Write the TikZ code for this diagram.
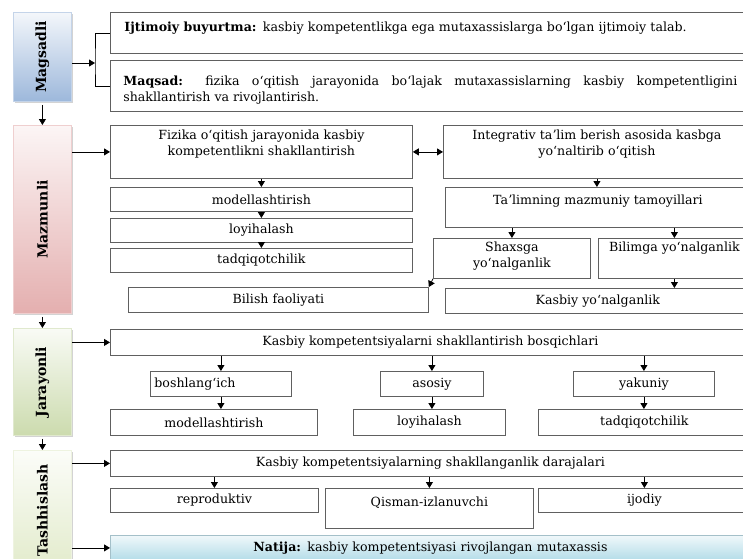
\documentclass[tikz,border=0pt]{standalone}
\usepackage{fontspec}
\setmainfont{DejaVu Serif}
\usetikzlibrary{arrows.meta,positioning,shadows}

\hyphenpenalty=10000
\exhyphenpenalty=10000

\definecolor{boxgray}{HTML}{606060}
\definecolor{magblue}{HTML}{9DB8DB}
\definecolor{mazpink}{HTML}{E4AFAF}
\definecolor{jargreen}{HTML}{CCDBAE}
\definecolor{tashgreen}{HTML}{E2EBCB}
\definecolor{natcyan}{HTML}{B3DCE8}

\begin{document}
\begin{tikzpicture}[x=1pt,y=-1pt,line width=0.8pt,>={Triangle[length=6pt,width=7pt]},
  font=\fontsize{12.6}{16}\selectfont,
  box/.style={draw=boxgray, anchor=north west, inner sep=0pt, align=center},
  side/.style={draw=#1!60, anchor=north west, minimum width=58pt, inner sep=0pt,
    top color=#1!12, bottom color=#1, font=\fontsize{14}{16}\selectfont\bfseries,
    drop shadow={opacity=0.35, shadow xshift=1.5pt, shadow yshift=-2pt}}]
  \clip (0,0) rectangle (743,558);

  % left column
  \node[side=magblue, minimum height=89pt] (magsadli) at (13,12) {\rotatebox{90}{Magsadli}};
  \node[side=mazpink, minimum height=188pt] (mazmunli) at (13,125) {\rotatebox{90}{Mazmunli}};
  \node[side=jargreen, minimum height=107pt] (jarayonli) at (13,328) {\rotatebox{90}{Jarayonli}};
  \node[side=tashgreen, minimum height=120pt] (tashhislash) at (13,450) {\rotatebox{90}{Tashhislash}};

  % goal
  \node[box, inner xsep=14pt, text width=612pt, align=left, minimum height=41pt, text depth=12pt] (ijt) at (110,12)
    {\textbf{Ijtimoiy buyurtma:} kasbiy kompetentlikga ega mutaxassislarga boʻlgan ijtimoiy talab.};
  \node[box, inner xsep=13pt, text width=614pt, align=justify, minimum height=51pt, text depth=11pt] (maq) at (110,60)
    {\textbf{Maqsad:} fizika oʻqitish jarayonida boʻlajak mutaxassislarning kasbiy kompetentligini shakllantirish va rivojlantirish.};

  % content
  \node[box, minimum width=302pt, minimum height=53pt, text depth=18pt] (fiz) at (110,125)
    {Fizika oʻqitish jarayonida kasbiy\\kompetentlikni shakllantirish};
  \node[box, minimum width=307pt, minimum height=53pt, text depth=18pt] (integ) at (443,125)
    {Integrativ taʼlim berish asosida kasbga\\yoʻnaltirib oʻqitish};
  \node[box, minimum width=302pt, minimum height=24pt] (modm) at (110,187) {modellashtirish};
  \node[box, minimum width=302pt, minimum height=24pt] (loym) at (110,218) {loyihalash};
  \node[box, minimum width=302pt, minimum height=24pt] (tadm) at (110,248) {tadqiqotchilik};
  \node[box, minimum width=300pt, minimum height=25pt] (bilish) at (128,287) {Bilish faoliyati};
  \node[box, minimum width=305pt, minimum height=40pt, text depth=15pt] (tal) at (445,187) {Taʼlimning mazmuniy tamoyillari};
  \node[box, minimum width=157pt, minimum height=40pt, text depth=8pt] (shax) at (433,238) {Shaxsga\\yoʻnalganlik};
  \node[box, minimum width=152pt, minimum height=40pt, text depth=23pt] (bilim) at (598,238) {Bilimga yoʻnalganlik};
  \node[box, minimum width=305pt, minimum height=25pt] (kasyo) at (445,288) {Kasbiy yoʻnalganlik};

  % process
  \node[box, minimum width=640pt, minimum height=26pt] (bosq) at (110,329) {Kasbiy kompetentsiyalarni shakllantirish bosqichlari};
  \node[box, minimum height=25pt, inner xsep=4pt, text width=133pt, align=left] (bosh) at (150,371) {boshlangʻich};
  \node[box, minimum width=103pt, minimum height=25pt] (asos) at (380,371) {asosiy};
  \node[box, minimum width=141pt, minimum height=25pt] (yak) at (573,371) {yakuniy};
  \node[box, minimum width=207pt, minimum height=26pt] (modj) at (110,409) {modellashtirish};
  \node[box, minimum width=152pt, minimum height=26pt] (loyj) at (353,409) {loyihalash};
  \node[box, minimum width=212pt, minimum height=26pt] (tadj) at (538,409) {tadqiqotchilik};

  % diagnostics
  \node[box, minimum width=640pt, minimum height=26pt] (daraja) at (110,450) {Kasbiy kompetentsiyalarning shakllanganlik darajalari};
  \node[box, minimum width=208pt, minimum height=24pt] (repro) at (110,488) {reproduktiv};
  \node[box, minimum width=208pt, minimum height=40pt, text depth=13pt] (qisman) at (325,488) {Qisman-izlanuvchi};
  \node[box, minimum width=212pt, minimum height=24pt] (ijod) at (538,488) {ijodiy};
  \node[box, draw=natcyan!70!gray, top color=natcyan!20, bottom color=natcyan, minimum height=25pt,
    inner xsep=143pt, text width=460pt, align=left] (natija) at (110,535)
    {\textbf{Natija:} kasbiy kompetentsiyasi rivojlangan mutaxassis};

  % left column flow
  \draw[->, shorten <=3pt] (magsadli) -- (mazmunli);
  \draw[->, shorten <=3pt] (mazmunli) -- (jarayonli);
  \draw[->, shorten <=3pt] (jarayonli) -- (tashhislash);

  % bracket to the two goal boxes
  \coordinate (brk) at (95,63);
  \draw[->] (magsadli.east |- brk) -- (brk);
  \draw (ijt.west) -| (brk) |- (maq.west);

  \draw[->] (mazmunli.east |- fiz.west) -- (fiz.west);
  \draw[->] (jarayonli.east |- bosq.west) -- (bosq.west);
  \draw[->] (tashhislash.east |- daraja.west) -- (daraja.west);
  \draw[->] (tashhislash.east |- natija.west) -- (natija.west);

  % content arrows
  \draw[<->] (fiz) -- (integ);
  \draw[->] (fiz) -- (modm);
  \draw[->] (modm) -- (loym);
  \draw[->] (loym) -- (tadm);
  \draw[->] (integ.south) -- (integ.south |- tal.north);
  \draw[->] (tal.south -| shax.north) -- (shax.north);
  \draw[->] (tal.south -| bilim.north) -- (bilim.north);
  \draw[->] (shax.south west) -- (bilish.north east);
  \draw[->] (bilim.south) -- (bilim.south |- kasyo.north);

  % process arrows
  \foreach \n in {bosh,asos,yak}
    \draw[->] (bosq.south -| \n.north) -- (\n.north);
  \draw[->] (bosh.south) -- (bosh.south |- modj.north);
  \draw[->] (asos.south) -- (asos.south |- loyj.north);
  \draw[->] (yak.south) -- (yak.south |- tadj.north);

  % diagnostic arrows
  \foreach \n in {repro,qisman,ijod}
    \draw[->] (daraja.south -| \n.north) -- (\n.north);
\end{tikzpicture}
\end{document}
